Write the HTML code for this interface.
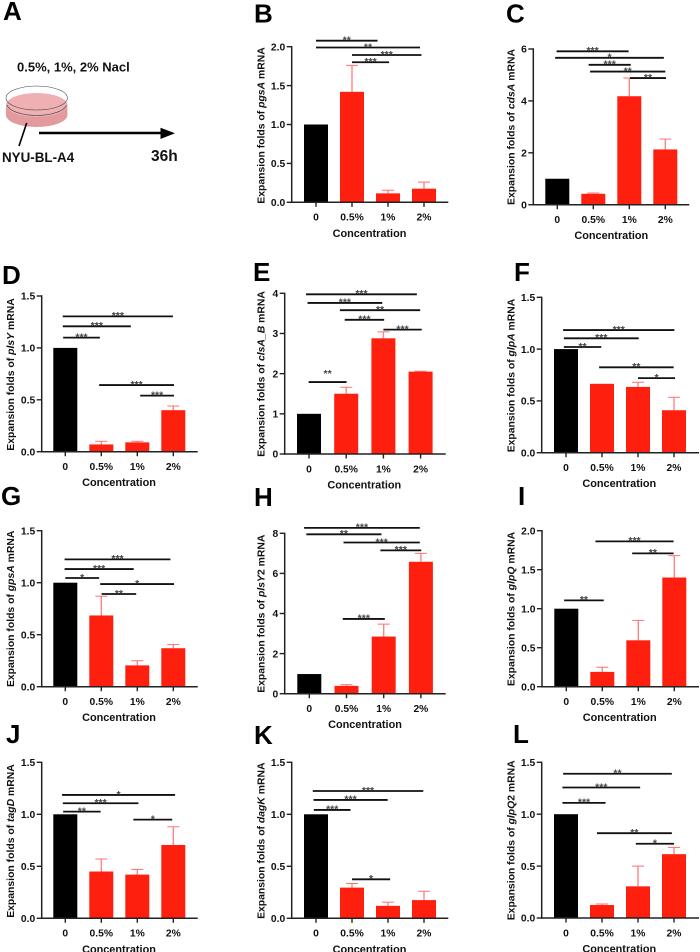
<!DOCTYPE html>
<html lang="en">
<head>
<meta charset="utf-8">
<title>Expansion folds of mRNA by NaCl concentration</title>
<style>
html,body{margin:0;padding:0;background:#fff;width:700px;height:952px;overflow:hidden}
svg{display:block}
text{font-family:"Liberation Sans",Arial,sans-serif;font-weight:bold;fill:#111}
.letter{font-size:26px;fill:#000}
.tick{font-size:10.3px}
.axt{font-size:10.9px}
.ylab{font-size:10.4px}
.star{font-size:10.5px;fill:#444;text-anchor:middle}
</style>
</head>
<body>
<svg id="figure" width="700" height="952" viewBox="0 0 700 952" xmlns="http://www.w3.org/2000/svg">
  <g>
    <text class="letter" x="3" y="20">A</text>
    <text x="17" y="71.7" font-size="13">0.5%, 1%, 2% Nacl</text>
    <g>
      <path d="M6 105 V115 A30.7 12 0 0 0 67.4 115 V105 Z" fill="#e29a9c"/>
      <ellipse cx="36.7" cy="105" rx="30.7" ry="12" fill="#eeb0b2"/>
      <path d="M7 105 A30 12 0 0 0 66.5 105" fill="none" stroke="#444" stroke-width=".6"/>
      <ellipse cx="36.7" cy="98" rx="30.7" ry="12" fill="none" stroke="#444" stroke-width=".6"/>
    </g>
    <line x1="26.7" y1="123" x2="19" y2="146" stroke="#000" stroke-width="1.6"/>
    <text x="2" y="162" font-size="13.4">NYU-BL-A4</text>
    <g>
      <line x1="39" y1="133" x2="162" y2="133" stroke="#000" stroke-width="2.6"/>
      <polygon points="160.5,127.8 175,133.3 160.5,139" fill="#000"/>
    </g>
    <text x="151" y="161" font-size="15.5">36h</text>
  </g>
</svg>
<script>
const categories = ['0', '0.5%', '1%', '2%'];

const ticksB = ['0.0', '0.5', '1.0', '1.5', '2.0'];
const valuesB = [1, 1.42, 0.115, 0.175];
const errorTopsB = [null, 1.76, 0.155, 0.26];
const sigB = [[0, 1.71, 2.077, '**'], [0, 2.89, 1.99, '**'], [1, 2.93, 1.893, '***'], [1, 2.03, 1.8, '***']];

const ticksC = ['0', '2', '4', '6'];
const valuesC = [1, 0.42, 4.18, 2.13];
const errorTopsC = [null, 0.45, 4.88, 2.53];
const sigC = [[-0.02, 1.98, 5.91, '***'], [-0.06, 2.96, 5.66, '*'], [0.87, 2.04, 5.39, '***'], [0.91, 3, 5.13, '**'], [2.02, 3.02, 4.88, '**']];

const ticksD = ['0.0', '0.5', '1.0', '1.5'];
const valuesD = [1, 0.07, 0.09, 0.4];
const errorTopsD = [null, 0.1, 0.1, 0.44];
const sigD = [[-0.07, 2.99, 1.304, '***'], [-0.07, 1.82, 1.208, '***'], [-0.06, 0.96, 1.099, '***'], [0.94, 3.02, 0.642, '***'], [2.08, 3.02, 0.54, '***']];

const ticksE = ['0', '1', '2', '3', '4'];
const valuesE = [1, 1.5, 2.88, 2.05];
const errorTopsE = [null, 1.66, 3.04, 2.06];
const sigE = [[-0.08, 2.9, 3.975, '***'], [-0.04, 1.97, 3.76, '***'], [0.83, 2.99, 3.58, '**'], [0.96, 2.02, 3.34, '***'], [2, 3.03, 3.095, '***'], [-0.01, 1.01, 1.79, '**', 8]];

const ticksF = ['0.0', '0.5', '1.0', '1.5'];
const valuesF = [1, 0.665, 0.635, 0.41];
const errorTopsF = [null, null, 0.68, 0.535];
const sigF = [[-0.08, 3.01, 1.184, '***'], [-0.06, 2.02, 1.104, '***'], [-0.06, 0.98, 1.02, '**'], [0.92, 2.99, 0.824, '**'], [2, 3.03, 0.72, '*']];

const ticksG = ['0.0', '0.5', '1.0', '1.5'];
const valuesG = [1, 0.685, 0.205, 0.37];
const errorTopsG = [null, 0.87, 0.25, 0.405];
const sigG = [[-0.02, 2.92, 1.224, '***'], [-0.02, 1.9, 1.131, '***'], [0, 0.94, 1.045, '*'], [0.97, 3.02, 0.987, '*'], [1.01, 1.97, 0.891, '**']];

const ticksH = ['0', '2', '4', '6', '8'];
const valuesH = [0.98, 0.39, 2.85, 6.58];
const errorTopsH = [null, 0.45, 3.47, 7];
const sigH = [[-0.14, 2.97, 8.27, '***'], [-0.08, 1.94, 7.95, '**'], [0.92, 2.97, 7.54, '***'], [1.91, 3.01, 7.15, '***'], [0.9, 2.03, 3.73, '***']];

const ticksI = ['0.0', '0.5', '1.0', '1.5', '2.0'];
const valuesI = [1, 0.19, 0.595, 1.4];
const errorTopsI = [null, 0.25, 0.85, 1.68];
const sigI = [[0.81, 2.98, 1.863, '***'], [1.83, 2.98, 1.709, '**'], [-0.06, 1.04, 1.107, '**']];

const ticksJ = ['0.0', '0.5', '1.0', '1.5'];
const valuesJ = [1, 0.45, 0.42, 0.705];
const errorTopsJ = [null, 0.57, 0.47, 0.88];
const sigJ = [[-0.09, 3.05, 1.186, '*'], [-0.07, 2.03, 1.106, '***'], [-0.06, 0.98, 1.026, '**'], [1.89, 2.97, 0.949, '*']];

const ticksK = ['0.0', '0.5', '1.0', '1.5'];
const valuesK = [1, 0.295, 0.12, 0.175];
const errorTopsK = [null, 0.335, 0.155, 0.26];
const sigK = [[-0.09, 2.98, 1.224, '***'], [-0.07, 1.99, 1.138, '***'], [-0.06, 0.96, 1.042, '***'], [1, 2.06, 0.375, '*']];

const ticksL = ['0.0', '0.5', '1.0', '1.5'];
const valuesL = [1, 0.125, 0.305, 0.615];
const errorTopsL = [null, 0.135, 0.5, 0.68];
const sigL = [[-0.08, 2.94, 1.39, '**'], [-0.1, 2.06, 1.257, '***'], [-0.1, 1.1, 1.109, '***'], [0.86, 2.94, 0.817, '**'], [1.94, 3, 0.715, '*']];

const SVGNS = 'http://www.w3.org/2000/svg';
const figure = document.getElementById('figure');

function make(parent, tag, attrs, content) {
  const node = document.createElementNS(SVGNS, tag);
  for (const key in attrs) node.setAttribute(key, attrs[key]);
  if (content !== undefined) node.textContent = content;
  parent.appendChild(node);
  return node;
}

function drawPanel(p) {
  const yMax = parseFloat(p.ticks[p.ticks.length - 1]);
  const yScale = v => p.base - (v / yMax) * (p.base - p.top);
  const xScale = i => p.first + i * p.step;

  const group = make(figure, 'g', {});
  
  

  const letter = make(group, 'text', { class: 'letter', x: p.letterX, y: p.letterY }, p.letter);
  
  

  p.values.forEach((v, i) => {
    const top = p.errorTops[i];
    if (top !== null) {
      const stem = make(group, 'line', { x1: xScale(i), x2: xScale(i), y1: yScale(v), y2: yScale(top), stroke: '#ff8585', 'stroke-width': 1.4 });
      
      
      const cap = make(group, 'line', { x1: xScale(i) - 6, x2: xScale(i) + 6, y1: yScale(top), y2: yScale(top), stroke: '#ff7070', 'stroke-width': 1 });
      
      
    }
    const bar = make(group, 'rect', {
      x: xScale(i) - 12, y: yScale(v), width: 24, height: p.base - yScale(v),
      fill: i === 0 ? '#000' : '#ff1f0f'
    });
    
    
  });

  const yAxis = make(group, 'line', { x1: p.axis, x2: p.axis, y1: p.top - 0.7, y2: p.base + 0.7, stroke: '#222', 'stroke-width': 1.5 });
  
  
  const xAxis = make(group, 'line', { x1: p.axis - 0.7, x2: p.end, y1: p.base, y2: p.base, stroke: '#222', 'stroke-width': 1.5 });
  
  

  p.ticks.forEach(label => {
    const y = yScale(parseFloat(label));
    const mark = make(group, 'line', { x1: p.axis - 5, x2: p.axis, y1: y, y2: y, stroke: '#222', 'stroke-width': 1.4 });
    
    
    const text = make(group, 'text', { class: 'tick', x: p.axis - 6.5, y: y + 3.7, 'text-anchor': 'end' }, label);
    
    
  });

  categories.forEach((label, i) => {
    const mark = make(group, 'line', { x1: xScale(i), x2: xScale(i), y1: p.base, y2: p.base + 4.5, stroke: '#222', 'stroke-width': 1.4 });
    
    
    const text = make(group, 'text', { class: 'tick', x: xScale(i), y: p.base + 18.4, 'text-anchor': 'middle' }, label);
    
    
  });

  const xTitle = make(group, 'text', { class: 'axt', x: p.titleX, y: p.base + 34.5, 'text-anchor': 'middle' }, 'Concentration');
  
  

  const yTitle = make(group, 'text', {
    class: 'ylab', 'text-anchor': 'middle',
    transform: 'translate(' + p.labelX + ',' + p.labelY + ') rotate(-90)'
  });
  
  
  make(yTitle, 'tspan', {}, 'Expansion folds of ');
  make(yTitle, 'tspan', { 'font-style': 'italic' }, p.gene);
  make(yTitle, 'tspan', {}, (p.suffix || '') + ' mRNA');

  p.sig.forEach(s => {
    const y = yScale(s[2]);
    const line = make(group, 'line', { x1: xScale(s[0]), x2: xScale(s[1]), y1: y, y2: y, stroke: '#111', 'stroke-width': 1.8 });
    
    
    const stars = make(group, 'text', { class: 'star', x: (xScale(s[0]) + xScale(s[1])) / 2, y: y + 2.8 - (s[4] || 0) }, s[3]);
    
    
  });
}

drawPanel({ letter: 'B', letterX: 254, letterY: 22.7, gene: 'pgsA', ticks: ticksB, values: valuesB, errorTops: errorTopsB, sig: sigB, axis: 291.7, end: 448.3, top: 46.7, base: 202.3, first: 316, step: 36, titleX: 369.5, labelX: 264.6, labelY: 125.5 });
drawPanel({ letter: 'C', letterX: 506, letterY: 22.7, gene: 'cdsA', ticks: ticksC, values: valuesC, errorTops: errorTopsC, sig: sigC, axis: 533.3, end: 689.3, top: 49, base: 204.7, first: 557.3, step: 36, titleX: 611.3, labelX: 514.6, labelY: 127 });
drawPanel({ letter: 'D', letterX: 2, letterY: 284, gene: 'plsY', ticks: ticksD, values: valuesD, errorTops: errorTopsD, sig: sigD, axis: 41.7, end: 197.7, top: 296, base: 451.7, first: 65.3, step: 36, titleX: 119, labelX: 14, labelY: 374.5 });
drawPanel({ letter: 'E', letterX: 253, letterY: 281, gene: 'clsA_B', ticks: ticksE, values: valuesE, errorTops: errorTopsE, sig: sigE, axis: 284.7, end: 445.7, top: 293.3, base: 454, first: 309, step: 37.2, titleX: 364.3, labelX: 264.6, labelY: 374 });
drawPanel({ letter: 'F', letterX: 514, letterY: 281, gene: 'glpA', ticks: ticksF, values: valuesF, errorTops: errorTopsF, sig: sigF, axis: 541.7, end: 699, top: 297.3, base: 452.7, first: 566, step: 36, titleX: 619.3, labelX: 514.6, labelY: 375.5 });
drawPanel({ letter: 'G', letterX: 1, letterY: 505, gene: 'gpsA', ticks: ticksG, values: valuesG, errorTops: errorTopsG, sig: sigG, axis: 41.7, end: 197.7, top: 530.7, base: 686.7, first: 65.3, step: 36, titleX: 119, labelX: 14, labelY: 608.8 });
drawPanel({ letter: 'H', letterX: 254, letterY: 506, gene: 'plsY', suffix: '2', ticks: ticksH, values: valuesH, errorTops: errorTopsH, sig: sigH, axis: 284.7, end: 445.7, top: 533.3, base: 693.7, first: 309.3, step: 37.2, titleX: 365, labelX: 264.6, labelY: 613.7 });
drawPanel({ letter: 'I', letterX: 518, letterY: 505, gene: 'glpQ', ticks: ticksI, values: valuesI, errorTops: errorTopsI, sig: sigI, axis: 542, end: 699, top: 530.7, base: 686.7, first: 566.3, step: 36, titleX: 619.7, labelX: 514.6, labelY: 609 });
drawPanel({ letter: 'J', letterX: 6, letterY: 743, gene: 'tagD', ticks: ticksJ, values: valuesJ, errorTops: errorTopsJ, sig: sigJ, axis: 41.7, end: 197.7, top: 762.3, base: 918.3, first: 65.3, step: 36, titleX: 119, labelX: 14, labelY: 841 });
drawPanel({ letter: 'K', letterX: 254, letterY: 744, gene: 'dagK', ticks: ticksK, values: valuesK, errorTops: errorTopsK, sig: sigK, axis: 291.7, end: 448.3, top: 762.3, base: 918.3, first: 316, step: 36, titleX: 369.5, labelX: 264.6, labelY: 840.7 });
drawPanel({ letter: 'L', letterX: 513, letterY: 743, gene: 'glpQ', suffix: '2', ticks: ticksL, values: valuesL, errorTops: errorTopsL, sig: sigL, axis: 541.7, end: 699, top: 762.3, base: 918, first: 566, step: 36, titleX: 619.3, labelX: 514.6, labelY: 840.3 });
</script>
</body>
</html>
